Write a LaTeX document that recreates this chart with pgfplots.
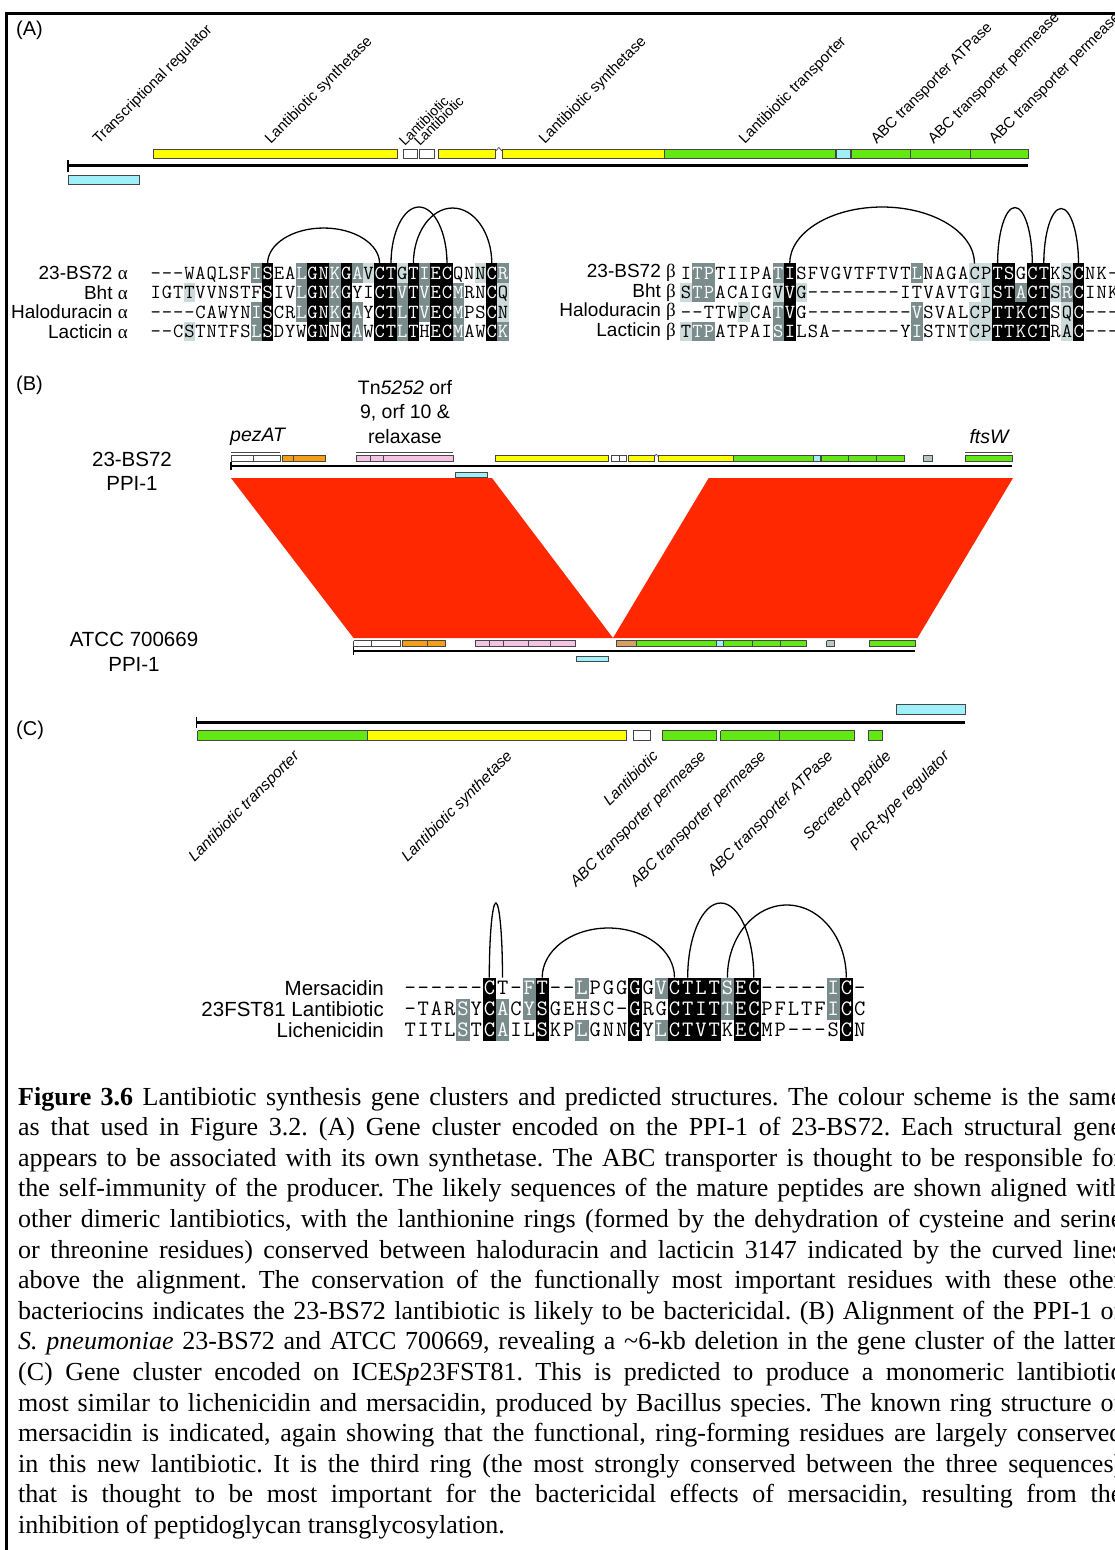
\documentclass[border=0pt]{standalone}
\usepackage{fontspec}
\setmainfont{Liberation Serif}
\newfontfamily\sans{Liberation Sans}
\usepackage{pgfplots}
\pgfplotsset{compat=1.18}

\definecolor{gyel}{RGB}{255,255,0}
\definecolor{ggrn}{RGB}{100,232,20}
\definecolor{gcyn}{RGB}{160,240,250}
\definecolor{gorn}{RGB}{245,160,20}
\definecolor{gpnk}{RGB}{245,195,228}
\definecolor{gtan}{RGB}{214,160,100}
\definecolor{ggry}{RGB}{185,198,198}
\definecolor{band}{RGB}{255,40,0}
\definecolor{outl}{RGB}{70,70,70}
\definecolor{shk}{RGB}{0,0,0}
\definecolor{shg}{RGB}{122,140,140}
\definecolor{shl}{RGB}{205,218,218}

% gene box: x1 x2 y1 y2 colour
\newcommand\gbar[5]{\addplot[fill=#5, draw=outl, line width=0.6bp] coordinates {(#1,#3) (#2,#3) (#2,#4) (#1,#4) (#1,#3)};}

% ring arc over an alignment: x1 x2 ybottom ytop
\newcommand\ring[4]{%
  \pgfmathsetmacro\rA{(#1+#2)/2}%
  \pgfmathsetmacro\rB{0.5523*(#2-#1)/2}%
  \pgfmathsetmacro\rL{\rA-\rB}%
  \pgfmathsetmacro\rR{\rA+\rB}%
  \pgfmathsetmacro\rC{#3-0.5523*(#3-#4)}%
  \edef\ringpath{\noexpand\draw[line width=1.3bp] (#1,#3) .. controls (#1,\rC) and (\rL,#4) .. (\rA,#4) .. controls (\rR,#4) and (#2,\rC) .. (#2,#3);}%
  \ringpath}

% alignment cells
\newlength\cw \newlength\cht \newlength\cdp
\newcommand\celln[1]{\makebox[\cw]{#1}}
\newcommand\cellk[1]{\rlap{\color{shk}\rule[-\cdp]{\cw}{\cht}}\makebox[\cw]{\color{white}#1}}
\newcommand\cellg[1]{\rlap{\color{shg}\rule[-\cdp]{\cw}{\cht}}\makebox[\cw]{\color{white}#1}}
\newcommand\celll[1]{\rlap{\color{shl}\rule[-\cdp]{\cw}{\cht}}\makebox[\cw]{#1}}
\newcommand\cellbox[2]{\csname cell#1\endcsname{#2}}
\def\seqrow#1#2{\seqloop#1\relax#2\relax}
\def\seqloop#1#2\relax#3#4\relax{\cellbox{#1}{#3}\ifx\relax#2\relax\else\seqloop#2\relax#4\relax\fi}
\newcommand\seqA{\setlength\cw{11.2bp}\setlength\cht{19.5bp}\setlength\cdp{3.65bp}\fontsize{20bp}{19.5bp}\selectfont\ttfamily}
\newcommand\seqB{\setlength\cw{11.55bp}\setlength\cht{19.5bp}\setlength\cdp{3.65bp}\fontsize{20bp}{19.5bp}\selectfont\ttfamily}
\newcommand\seqC{\setlength\cw{13.22bp}\setlength\cht{21bp}\setlength\cdp{3.8bp}\fontsize{22bp}{21bp}\selectfont\ttfamily}

\newcommand\labA{\fontsize{15bp}{18bp}\selectfont\sans}
\newcommand\labAs{\fontsize{14bp}{16bp}\selectfont\sans}
\newcommand\labC{\fontsize{15.5bp}{18bp}\selectfont\sans\itshape}
\newcommand\nameA{\fontsize{19bp}{22bp}\selectfont\sans}
\newcommand\nameC{\fontsize{20.5bp}{24bp}\selectfont\sans}
\newcommand\secfont{\fontsize{20bp}{24bp}\selectfont\sans}
\newcommand\capfont{\fontsize{26bp}{30bp}\selectfont\frenchspacing}

\begin{document}
\begin{tikzpicture}
\useasboundingbox (0,0) rectangle (1115bp,1550bp);
\clip (0,0) rectangle (1115bp,1550bp);
\begin{axis}[
  at={(0,0)}, anchor=south west,
  x=1bp, y=1bp, y dir=reverse,
  xmin=0, xmax=1115, ymin=0, ymax=1550,
  enlargelimits=false, hide axis, clip=false]

% frame
\addplot[black, line width=2.4bp] coordinates {(6.5,1550) (6.5,13.5) (1115,13.5)};

%% ---------------- (A) ----------------
\node[anchor=west, inner sep=0, font=\secfont] at (16,30) {(A)};
\gbar{153}{397.5}{149}{158}{gyel}
\gbar{403.6}{417}{149}{158}{white}
\gbar{419}{434}{149}{158}{white}
\gbar{438.6}{495.7}{149}{158}{gyel}
\gbar{502}{664}{149}{158}{gyel}
\gbar{664}{835}{149}{158}{ggrn}
\gbar{836}{850}{149}{158}{gcyn}
\gbar{851}{910}{149}{158}{ggrn}
\gbar{910}{970}{149}{158}{ggrn}
\gbar{970}{1028}{149}{158}{ggrn}
\gbar{68}{139}{175}{184}{gcyn}
\addplot[black, line width=2.6bp] coordinates {(68,165.7) (1028,165.7)};
\addplot[black, line width=1.6bp] coordinates {(68,160) (68,171.5)};
\draw[outl, line width=0.7bp] (495.7,151) -- (498.9,147.5) -- (502,151);

\node[rotate=45, anchor=south west, inner sep=0, font=\labA] at (101,147) {Transcriptional regulator};
\node[rotate=45, anchor=south west, inner sep=0, font=\labA] at (273,147) {Lantibiotic synthetase};
\node[rotate=45, anchor=south west, inner sep=0, font=\labAs] at (405,147) {Lantibiotic};
\node[rotate=45, anchor=south west, inner sep=0, font=\labAs] at (420,147) {Lantibiotic};
\node[rotate=45, anchor=south west, inner sep=0, font=\labA] at (547,147) {Lantibiotic synthetase};
\node[rotate=45, anchor=south west, inner sep=0, font=\labA] at (747,147) {Lantibiotic transporter};
\node[rotate=45, anchor=south west, inner sep=0, font=\labA] at (879,147) {ABC transporter ATPase};
\node[rotate=45, anchor=south west, inner sep=0, font=\labA] at (936,147) {ABC transporter permease};
\node[rotate=45, anchor=south west, inner sep=0, font=\labA] at (997,147) {ABC transporter permease};

% alpha peptides
\node[anchor=east, inner sep=0, font=\nameA] at (128,273) {23-BS72 {\rmfamily α}};
\node[anchor=east, inner sep=0, font=\nameA] at (128,292.5) {Bht {\rmfamily α}};
\node[anchor=east, inner sep=0, font=\nameA] at (128,312) {Haloduracin {\rmfamily α}};
\node[anchor=east, inner sep=0, font=\nameA] at (128,331.5) {Lacticin {\rmfamily α}};
\node[anchor=base west, inner sep=0] at (150,279.1) {\seqA\seqrow{nnnnnnnnngknngkkgkglkklkgkknnlkg}{---WAQLSFISEALGNKGAVCTGTIECQNNCR}};
\node[anchor=base west, inner sep=0] at (150,298.6) {\seqA\seqrow{nnnlnnnnnnknngkkgknnkkgkgkkgnnkl}{IGTTVVNSTFSIVLGNKGYICTVTVECMRNCQ}};
\node[anchor=base west, inner sep=0] at (150,318.1) {\seqA\seqrow{nnnnnnnnngknngkkgkgnkkgkgkkgnnkl}{----CAWYNISCRLGNKGAYCTLTVECMPSCN}};
\node[anchor=base west, inner sep=0] at (150,337.6) {\seqA\seqrow{nnnlnnnnngknnnkknkgnkkgknkkgnnkg}{--CSTNTFSLSDYWGNNGAWCTLTHECMAWCK}};
\ring{267.6}{379.6}{263.5}{228}
\ring{391}{447}{263.5}{207}
\ring{413.4}{491.8}{263.5}{208}

% beta peptides
\node[anchor=east, inner sep=0, font=\nameA] at (676,273) {23-BS72 {\rmfamily β}};
\node[anchor=east, inner sep=0, font=\nameA] at (676,292.5) {Bht {\rmfamily β}};
\node[anchor=east, inner sep=0, font=\nameA] at (676,312) {Haloduracin {\rmfamily β}};
\node[anchor=east, inner sep=0, font=\nameA] at (676,331.5) {Lacticin {\rmfamily β}};
\node[anchor=base west, inner sep=0] at (680,279.1) {\seqB\seqrow{nggnnnnngknnnnnnnnnngnnnnllkknkknlknnn}{ITPTIIPATISFVGVTFTVTLNAGACPTSGCTKSCNK-}};
\node[anchor=base west, inner sep=0] at (680,298.6) {\seqB\seqrow{lggnnnnnlklnnnnnnnnnnnnnnnlkkgkklgknnn}{STPACAIGVVG--------ITVAVTGISTACTSRCINK}};
\node[anchor=base west, inner sep=0] at (680,318.1) {\seqB\seqrow{nnnnnlnngknnnnnnnnnngnnnnllkkkkknlknnn}{--TTWPCATVG---------VSVALCPTTKCTSQC---}};
\node[anchor=base west, inner sep=0] at (680,337.6) {\seqB\seqrow{lggnnnnngknnnnnnnnnngnnnnllkkkkknlknnn}{TTPATPAISILSA------YISTNTCPTTKCTRAC---}};
\ring{789.7}{974.5}{263.5}{207}
\ring{997.6}{1032.3}{263.5}{207.5}
\ring{1043.8}{1078.5}{263.5}{208.5}

%% ---------------- (B) ----------------
\node[anchor=west, inner sep=0, font=\secfont] at (16,385) {(B)};
\node[align=center, inner sep=0, font=\fontsize{19.5bp}{24.5bp}\selectfont\sans] at (405,412) {Tn\textit{5252} orf\\9, orf 10 \&\\relaxase};
\node[anchor=west, inner sep=0, font=\fontsize{19.5bp}{24bp}\selectfont\sans\itshape] at (230,437) {pezAT};
\node[inner sep=0, font=\fontsize{19.5bp}{24bp}\selectfont\sans\itshape] at (989,437) {ftsW};
\node[inner sep=0, font=\nameC] at (132,459) {23-BS72};
\node[inner sep=0, font=\nameC] at (132,483) {PPI-1};
\node[inner sep=0, font=\nameC] at (134,639) {ATCC 700669};
\node[inner sep=0, font=\nameC] at (134,664) {PPI-1};

% syntenic blocks
\addplot[fill=band, draw=none] coordinates {(231,478) (492,478) (613,638) (353.5,638) (231,478)};
\addplot[fill=band, draw=none] coordinates {(708.7,478) (1013,478) (917.5,638) (613,638) (708.7,478)};

% 23-BS72 PPI-1
\addplot[outl, line width=1.2bp] coordinates {(231,452.3) (280,452.3)};
\addplot[outl, line width=1.2bp] coordinates {(356,452.3) (453,452.3)};
\addplot[outl, line width=1.2bp] coordinates {(965,452.3) (1012,452.3)};
\gbar{231}{253}{455}{461}{white}
\gbar{253}{280}{455}{461}{white}
\gbar{282}{293}{455}{461}{gorn}
\gbar{293}{325}{455}{461}{gorn}
\gbar{356}{370}{455}{461}{gpnk}
\gbar{370}{383}{455}{461}{gpnk}
\gbar{383}{453}{455}{461}{gpnk}
\gbar{495}{608}{455}{461}{gyel}
\gbar{611.5}{619}{455}{461}{white}
\gbar{619}{626}{455}{461}{white}
\gbar{628}{654.4}{455}{461}{gyel}
\gbar{658}{733.6}{455}{461}{gyel}
\gbar{733.6}{813}{455}{461}{ggrn}
\gbar{813}{820.5}{455}{461}{gcyn}
\gbar{821}{848}{455}{461}{ggrn}
\gbar{848}{876}{455}{461}{ggrn}
\gbar{876}{904}{455}{461}{ggrn}
\gbar{923}{932}{455}{461}{ggry}
\gbar{965}{1012}{455}{461}{ggrn}
\draw[outl, line width=0.6bp] (654.4,456.5) -- (656.2,454.2) -- (658,456.5);
\addplot[black, line width=1.8bp] coordinates {(231,466) (1012,466)};
\addplot[black, line width=1.2bp] coordinates {(231,462) (231,470)};
\gbar{455}{487.5}{472}{477}{gcyn}

% ATCC 700669 PPI-1
\gbar{353.5}{371}{640.5}{646}{white}
\gbar{371}{400.4}{640.5}{646}{white}
\gbar{402}{427}{640.5}{646}{gorn}
\gbar{427}{445}{640.5}{646}{gorn}
\gbar{475}{489}{640.5}{646}{gpnk}
\gbar{489}{503}{640.5}{646}{gpnk}
\gbar{503}{528}{640.5}{646}{gpnk}
\gbar{528}{550}{640.5}{646}{gpnk}
\gbar{550}{575}{640.5}{646}{gpnk}
\gbar{616}{636.5}{640.5}{646}{gtan}
\gbar{636.5}{716}{640.5}{646}{ggrn}
\gbar{716}{723}{640.5}{646}{gcyn}
\gbar{723}{752}{640.5}{646}{ggrn}
\gbar{752}{780}{640.5}{646}{ggrn}
\gbar{780}{806}{640.5}{646}{ggrn}
\gbar{826.5}{834}{640.5}{646}{ggry}
\gbar{869}{915}{640.5}{646}{ggrn}
\addplot[black, line width=1.8bp] coordinates {(353.5,650.7) (915,650.7)};
\addplot[black, line width=1.2bp] coordinates {(353.5,647) (353.5,654.5)};
\gbar{576}{608}{656}{661.7}{gcyn}

%% ---------------- (C) ----------------
\node[anchor=west, inner sep=0, font=\secfont] at (16,730) {(C)};
\gbar{896.4}{965}{704}{714}{gcyn}
\addplot[black, line width=2.6bp] coordinates {(196.6,722.3) (965,722.3)};
\addplot[black, line width=1.6bp] coordinates {(196.6,716.5) (196.6,728)};
\gbar{197.6}{367}{730.7}{740.7}{ggrn}
\gbar{367}{626.5}{730.7}{740.7}{gyel}
\gbar{633}{650}{730.7}{740.7}{white}
\gbar{662}{716.5}{730.7}{740.7}{ggrn}
\gbar{720.7}{779}{730.7}{740.7}{ggrn}
\gbar{779}{854}{730.7}{740.7}{ggrn}
\gbar{868}{882}{730.7}{740.7}{ggrn}

\node[rotate=45, anchor=north east, inner sep=0, font=\labC] at (292,749) {Lantibiotic transporter};
\node[rotate=45, anchor=north east, inner sep=0, font=\labC] at (505,749) {Lantibiotic synthetase};
\node[rotate=45, anchor=north east, inner sep=0, font=\labC] at (651,749) {Lantibiotic};
\node[rotate=45, anchor=north east, inner sep=0, font=\labC] at (699,749) {ABC transporter permease};
\node[rotate=45, anchor=north east, inner sep=0, font=\labC] at (759,749) {ABC transporter permease};
\node[rotate=45, anchor=north east, inner sep=0, font=\labC] at (826,749) {ABC transporter ATPase};
\node[rotate=45, anchor=north east, inner sep=0, font=\labC] at (884,749) {Secreted peptide};
\node[rotate=45, anchor=north east, inner sep=0, font=\labC] at (942,749) {PlcR-type regulator};

% monomeric lantibiotics
\node[anchor=east, inner sep=0, font=\nameC] at (384,988) {Mersacidin};
\node[anchor=east, inner sep=0, font=\nameC] at (384,1009) {23FST81 Lantibiotic};
\node[anchor=east, inner sep=0, font=\nameC] at (384,1030) {Lichenicidin};
\node[anchor=base west, inner sep=0] at (403.4,994.7) {\seqC\seqrow{nnnnnnknngknngnnnkngkkkkgkknnnnngkn}{------CT-FT--LPGGGGVCTLTSEC-----IC-}};
\node[anchor=base west, inner sep=0] at (403.4,1015.7) {\seqC\seqrow{nnnngnkgngknnnnnnknnkkkkgkknnnnngkn}{-TARSYCACYSGEHSC-GRGCTITTECPFLTFICC}};
\node[anchor=base west, inner sep=0] at (403.4,1036.7) {\seqC\seqrow{nnnngnkgnnknngnnnkngkkkknkknnnnnnkn}{TITLSTCAILSKPLGNNGYLCTVTKECMP---SCN}};
\ring{489.3}{502.5}{977.5}{903}
\ring{542.2}{674.5}{977.5}{928}
\ring{687.7}{753.8}{977.5}{903}
\ring{727.4}{846.3}{977.5}{905}

%% ---------------- caption ----------------
\node[anchor=base west, inner sep=0, font=\capfont] at (18,1105) {\makebox[1104bp][s]{\textbf{Figure 3.6} Lantibiotic synthesis gene clusters and predicted structures. The colour scheme is the same}};
\node[anchor=base west, inner sep=0, font=\capfont] at (18,1135.6) {\makebox[1104bp][s]{as that used in Figure 3.2. (A) Gene cluster encoded on the PPI-1 of 23-BS72. Each structural gene}};
\node[anchor=base west, inner sep=0, font=\capfont] at (18,1166.2) {\makebox[1104bp][s]{appears to be associated with its own synthetase. The ABC transporter is thought to be responsible for}};
\node[anchor=base west, inner sep=0, font=\capfont] at (18,1196.8) {\makebox[1104bp][s]{the self-immunity of the producer. The likely sequences of the mature peptides are shown aligned with}};
\node[anchor=base west, inner sep=0, font=\capfont] at (18,1227.4) {\makebox[1104bp][s]{other dimeric lantibiotics, with the lanthionine rings (formed by the dehydration of cysteine and serine}};
\node[anchor=base west, inner sep=0, font=\capfont] at (18,1258) {\makebox[1104bp][s]{or threonine residues) conserved between haloduracin and lacticin 3147 indicated by the curved lines}};
\node[anchor=base west, inner sep=0, font=\capfont] at (18,1288.6) {\makebox[1104bp][s]{above the alignment. The conservation of the functionally most important residues with these other}};
\node[anchor=base west, inner sep=0, font=\capfont] at (18,1319.2) {\makebox[1104bp][s]{bacteriocins indicates the 23-BS72 lantibiotic is likely to be bactericidal. (B) Alignment of the PPI-1 of}};
\node[anchor=base west, inner sep=0, font=\capfont] at (18,1349.8) {\makebox[1104bp][s]{\textit{S. pneumoniae} 23-BS72 and ATCC 700669, revealing a \textasciitilde6-kb deletion in the gene cluster of the latter.}};
\node[anchor=base west, inner sep=0, font=\capfont] at (18,1380.4) {\makebox[1104bp][s]{(C) Gene cluster encoded on ICE\textit{Sp}23FST81. This is predicted to produce a monomeric lantibiotic}};
\node[anchor=base west, inner sep=0, font=\capfont] at (18,1411) {\makebox[1104bp][s]{most similar to lichenicidin and mersacidin, produced by Bacillus species. The known ring structure of}};
\node[anchor=base west, inner sep=0, font=\capfont] at (18,1441.6) {\makebox[1104bp][s]{mersacidin is indicated, again showing that the functional, ring-forming residues are largely conserved}};
\node[anchor=base west, inner sep=0, font=\capfont] at (18,1472.2) {\makebox[1104bp][s]{in this new lantibiotic. It is the third ring (the most strongly conserved between the three sequences)}};
\node[anchor=base west, inner sep=0, font=\capfont] at (18,1502.8) {\makebox[1104bp][s]{that is thought to be most important for the bactericidal effects of mersacidin, resulting from the}};
\node[anchor=base west, inner sep=0, font=\capfont] at (18,1533.4) {inhibition of peptidoglycan transglycosylation.};
\end{axis}
\end{tikzpicture}
\end{document}
